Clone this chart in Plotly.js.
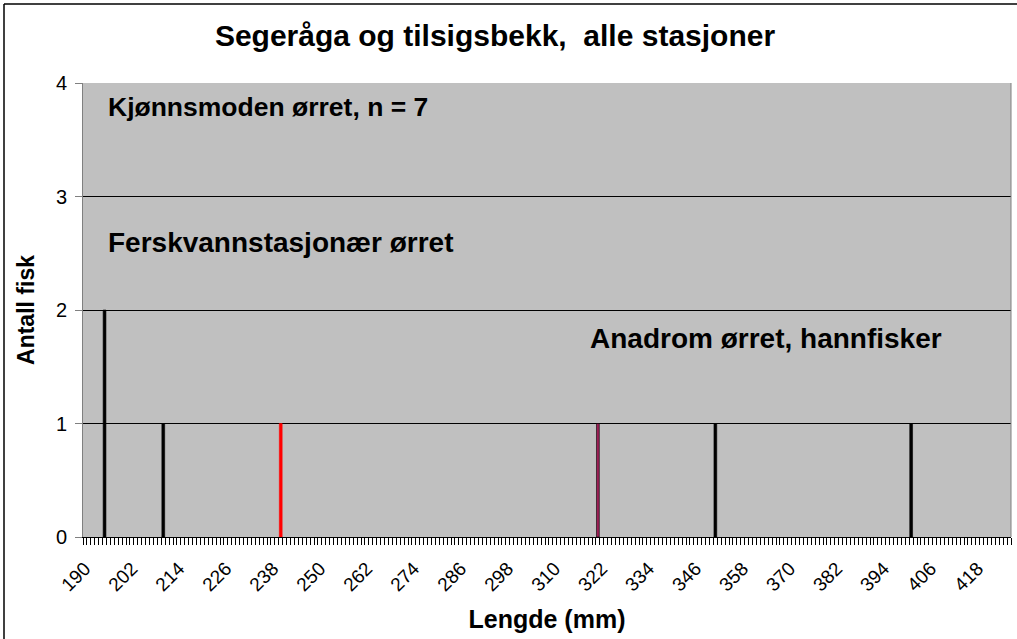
<!DOCTYPE html>
<html>
<head>
<meta charset="utf-8">
<script src="https://cdn.plot.ly/plotly-3.0.1.min.js"></script>
<style>
html,body{margin:0;padding:0;background:#fff;}
#chart{width:1017px;height:639px;}
</style>
</head>
<body>
<div id="chart"></div>
<script>
// Data
var lengths = [195, 210, 240, 321, 351, 401];
var counts = [2, 1, 1, 1, 1, 1];
var tickLabels = [190, 202, 214, 226, 238, 250, 262, 274, 286, 298, 310, 322, 334, 346, 358, 370, 382, 394, 406, 418];
var barColors = ['#000000', '#000000', '#ff0000', '#9c1f55', '#000000', '#000000'];
var barLines = ['#000000', '#000000', '#ff0000', '#000000', '#000000', '#000000'];

var FONT = 'Arial, "Liberation Sans", sans-serif';

var trace = {
  type: 'bar',
  x: lengths,
  y: counts,
  width: 0.72,
  marker: {color: barColors, line: {color: barLines, width: 0.6}},
  hoverinfo: 'x+y'
};

var layout = {
  width: 1017,
  height: 639,
  margin: {l: 83, r: 6, t: 83, b: 102},
  paper_bgcolor: '#ffffff',
  plot_bgcolor: '#c0c0c0',
  showlegend: false,
  bargap: 0,
  title: {
    text: '<b>Segeråga og tilsigsbekk,  alle stasjoner</b>',
    font: {family: FONT, size: 30, color: '#000'},
    x: 495 / 1017, xanchor: 'center', xref: 'container',
    y: 1 - 35/639, yanchor: 'middle', yref: 'container'
  },
  xaxis: {
    range: [189.5, 426.5],
    tickmode: 'array',
    tickvals: tickLabels,
    ticktext: tickLabels.map(String),
    ticks: '',
    tickangle: -45,
    ticklabelstandoff: 12,
    tickfont: {family: FONT, size: 19, color: '#000'},
    showgrid: false,
    zeroline: false,
    showline: true,
    linecolor: '#000',
    linewidth: 1,
    minor: {tickmode: 'linear', tick0: 189.5, dtick: 1, ticks: 'outside', ticklen: 7, tickcolor: '#000', tickwidth: 1, showgrid: false},
    title: {text: '<b>Lengde (mm)</b>', font: {family: FONT, size: 25, color: '#000'}, standoff: 16},
    fixedrange: true
  },
  yaxis: {
    range: [0, 4],
    tickmode: 'linear',
    tick0: 0,
    dtick: 1,
    ticks: 'outside',
    ticklen: 7,
    tickcolor: '#808080',
    tickfont: {family: FONT, size: 20, color: '#000'},
    ticklabelstandoff: 4,
    showgrid: true,
    gridcolor: '#000',
    gridwidth: 1,
    zeroline: false,
    showline: true,
    linecolor: '#808080',
    linewidth: 1,
    title: {text: '<b>Antall fisk</b>', font: {family: FONT, size: 23, color: '#000'}, standoff: 14},
    fixedrange: true
  },
  shapes: [
    {type: 'line', xref: 'paper', yref: 'paper', x0: 1, x1: 1, y0: 0, y1: 1, line: {color: '#808080', width: 1}},
    {type: 'line', xref: 'paper', yref: 'paper', x0: (4 - 83) / 928, x1: 1.02, y0: (537 - 4) / 454, y1: (537 - 4) / 454, line: {color: '#000', width: 1.5}},
    {type: 'line', xref: 'paper', yref: 'paper', x0: (4 - 83) / 928, x1: (4 - 83) / 928, y0: (537 - 4) / 454, y1: -0.3, line: {color: '#000', width: 1.5}}
  ],
  annotations: [
    {text: '<b>Kjønnsmoden ørret, n = 7</b>', xref: 'paper', yref: 'paper', x: (106 - 83) / 928, y: (537 - 107) / 454, xanchor: 'left', yanchor: 'middle', showarrow: false, font: {family: FONT, size: 26.5, color: '#000'}},
    {text: '<b>Ferskvannstasjonær ørret</b>', xref: 'paper', yref: 'paper', x: (106 - 83) / 928, y: (537 - 243) / 454, xanchor: 'left', yanchor: 'middle', showarrow: false, font: {family: FONT, size: 28, color: '#000'}},
    {text: '<b>Anadrom ørret, hannfisker</b>', xref: 'paper', yref: 'paper', x: (588 - 83) / 928, y: (537 - 338) / 454, xanchor: 'left', yanchor: 'middle', showarrow: false, font: {family: FONT, size: 28, color: '#000'}}
  ]
};

Plotly.newPlot('chart', [trace], layout, {displayModeBar: false, staticPlot: true});
</script>
</body>
</html>
